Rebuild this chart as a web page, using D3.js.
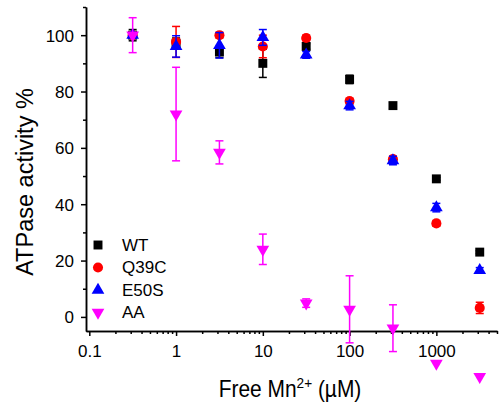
<!DOCTYPE html>
<html>
<head>
<meta charset="utf-8">
<script src="https://cdn.jsdelivr.net/npm/d3@7"></script>
<style>
  body { margin: 0; background: #fff; }
  svg { display: block; font-family: "Liberation Sans", Arial, sans-serif; }
  .axis path, .axis line { stroke: #000; stroke-width: 1.5; }
  .axis text { font-size: 17px; fill: #000; font-family: "Liberation Sans", Arial, sans-serif; }
</style>
</head>
<body>
<div id="chart"></div>
<script>
// free Mn2+ concentrations (µM)
const concentrations = [0.316, 1, 3.16, 10, 31.6, 100, 316, 1000, 3162];

const seriesNames = ["WT", "Q39C", "E50S", "AA"];

const wtValues   = [100, 97, 94, 90, 96, 84.3, 75, 49, 23];
const wtErrors   = [2, 2, 2, 5, 1, 1.5, 1, 0.5, 0.5];
const q39cValues = [100, 97.6, 100, 96, 99, 76.6, 56, 33.2, 3.2];
const q39cErrors = [1, 5.5, 1, 4, 1, 1, 1, 1, 2];
const e50sValues = [100, 96, 96.4, 99.2, 93, 75, 55.5, 38.8, 16.5];
const e50sErrors = [1, 3.8, 4.5, 2.8, 1.2, 1.5, 1.5, 1.5, 1];
const aaValues   = [100, 72, 58.4, 24, 4.9, 2.7, -4, -16.5, -21.2];
const aaErrors   = [6.2, 16.6, 4.1, 5.4, 1.5, 11.9, 8.3, 0, 0];

const yMajorTicks = [0, 20, 40, 60, 80, 100];
const yMinorTicks = [10, 30, 50, 70, 90, 110];
const xMajorTicks = [0.1, 1, 10, 100, 1000];

const W = 500, H = 408;
const svg = d3.select("#chart").append("svg").attr("width", W).attr("height", H);

const x = d3.scaleLog().domain([0.0916, 5000]).range([86, 497]);
const y = d3.scaleLinear().domain([-5, 110]).range([331, 7]);

const xMinorTicks = [];
xMajorTicks.forEach(dec => {
  for (let k = 2; k <= 9; k++) {
    const v = dec * k;
    if (v <= 5000) xMinorTicks.push(v);
  }
});

// y axis
svg.append("g").attr("class", "axis").attr("transform", "translate(86,0)")
  .call(d3.axisLeft(y).tickValues(yMinorTicks).tickSize(3).tickFormat("").tickSizeOuter(0));
svg.append("g").attr("class", "axis").attr("transform", "translate(86,0)")
  .call(d3.axisLeft(y).tickValues(yMajorTicks).tickSize(5).tickPadding(7).tickSizeOuter(0))
  .selectAll("text").attr("dy", "0.35em");

// x axis
svg.append("g").attr("class", "axis").attr("transform", "translate(0,331)")
  .call(d3.axisBottom(x).tickValues(xMinorTicks).tickSize(3).tickFormat("").tickSizeOuter(0));
svg.append("g").attr("class", "axis").attr("transform", "translate(0,331)")
  .call(d3.axisBottom(x).tickValues(xMajorTicks).tickSize(5).tickPadding(9).tickSizeOuter(0)
    .tickFormat(d => d < 1 ? "0.1" : String(d)));

// axis titles
svg.append("text")
  .attr("transform", "translate(290,397) scale(0.91,1)")
  .attr("text-anchor", "middle").attr("font-size", "23px")
  .html('Free Mn<tspan dy="-9" font-size="15px">2+</tspan><tspan dy="9"> (µM)</tspan>');

svg.append("text")
  .attr("transform", "translate(33,182) rotate(-90)")
  .attr("text-anchor", "middle").attr("font-size", "23.5px")
  .text("ATPase activity %");

const series = [
  { name: seriesNames[0], values: wtValues,   errors: wtErrors,   color: "#000000", shape: d3.symbolSquare,   size: 80, rot: 0 },
  { name: seriesNames[1], values: q39cValues, errors: q39cErrors, color: "#ff0000", shape: d3.symbolCircle,   size: 80, rot: 0 },
  { name: seriesNames[2], values: e50sValues, errors: e50sErrors, color: "#0000ff", shape: d3.symbolTriangle, size: 70, rot: 0 },
  { name: seriesNames[3], values: aaValues,   errors: aaErrors,   color: "#ff00ff", shape: d3.symbolTriangle, size: 70, rot: 180 },
];

const cap = 4;
series.forEach(s => {
  const pts = concentrations.map((c, i) => ({ c, v: s.values[i], e: s.errors[i] }));
  const g = svg.append("g");
  const eb = g.selectAll(".eb").data(pts.filter(p => p.e > 0)).join("g")
    .attr("stroke", s.color).attr("stroke-width", 1.5);
  eb.append("line")
    .attr("x1", p => x(p.c)).attr("x2", p => x(p.c))
    .attr("y1", p => y(p.v + p.e)).attr("y2", p => y(p.v - p.e));
  eb.append("line")
    .attr("x1", p => x(p.c) - cap).attr("x2", p => x(p.c) + cap)
    .attr("y1", p => y(p.v + p.e)).attr("y2", p => y(p.v + p.e));
  eb.append("line")
    .attr("x1", p => x(p.c) - cap).attr("x2", p => x(p.c) + cap)
    .attr("y1", p => y(p.v - p.e)).attr("y2", p => y(p.v - p.e));
  g.selectAll(".pt").data(pts).join("path")
    .attr("d", d3.symbol().type(s.shape).size(s.size))
    .attr("transform", p => `translate(${x(p.c)},${y(p.v)}) rotate(${s.rot})`)
    .attr("fill", s.color);
});

// legend
const lg = svg.append("g");
series.forEach((s, i) => {
  const cy = 245 + i * 22.5;
  lg.append("path")
    .attr("d", d3.symbol().type(s.shape).size(s.size))
    .attr("transform", `translate(98,${cy}) rotate(${s.rot})`)
    .attr("fill", s.color);
  lg.append("text")
    .attr("x", 122).attr("y", cy).attr("dy", "0.35em")
    .attr("font-size", "17px")
    .text(s.name);
});
</script>
</body>
</html>
